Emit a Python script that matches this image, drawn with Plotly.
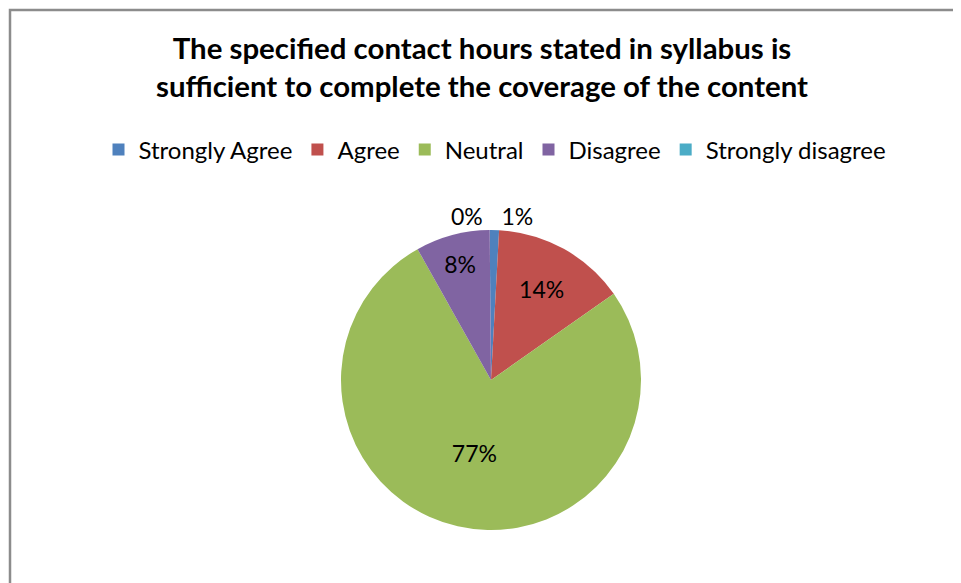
import plotly.graph_objects as go

categories = ["Strongly Agree", "Agree", "Neutral", "Disagree", "Strongly disagree"]
percent_values = [1.0, 14.4, 76.6, 8.0, 0.0]
colors = ["#4F81BD", "#C0504D", "#9BBB59", "#8064A2", "#4BACC6"]
title_lines = ["The specified contact hours stated in syllabus is",
               "sufficient to complete the coverage of the content"]

# page body has an 8px margin, so the figure is drawn 8px in from the window edge
W, H = 953, 575
OFF = 8
cx, cy, r = 491 - OFF, 380 - OFF, 150

fig = go.Figure(go.Pie(
    labels=categories,
    values=percent_values,
    marker=dict(colors=colors, line=dict(width=0)),
    sort=False,
    direction="clockwise",
    rotation=-0.5,
    texttemplate="%{percent:.0%}",
    textposition=["outside", "inside", "inside", "inside", "outside"],
    insidetextorientation="horizontal",
    textfont=dict(family="Lato", size=23, color="#000000"),
    showlegend=True,
    domain=dict(x=[(cx - r) / W, (cx + r) / W], y=[(H - cy - r) / H, (H - cy + r) / H]),
))

fig.update_layout(
    width=W, height=H,
    margin=dict(l=0, r=0, t=0, b=0),
    paper_bgcolor="white",
    title=dict(text="<b>" + "<br>".join(title_lines) + "</b>",
               x=(482 - OFF) / W, xanchor="center", y=1 - 51 / H, yanchor="top",
               font=dict(family="Lato", size=29.4, color="#000000")),
    legend=dict(orientation="h", x=(495 - OFF) / W, xanchor="center", y=1 - (150 - OFF) / H, yanchor="middle",
                font=dict(family="Lato", size=24, color="#000000"),
                itemwidth=30, traceorder="normal"),
    shapes=[dict(type="rect", xref="paper", yref="paper",
                 x0=(10 - OFF) / W, x1=1.05, y0=-0.05, y1=1 - (10 - OFF) / H,
                 line=dict(color="#8C8C8C", width=2.5), fillcolor="rgba(0,0,0,0)")],
)

fig.write_html("out.html")
